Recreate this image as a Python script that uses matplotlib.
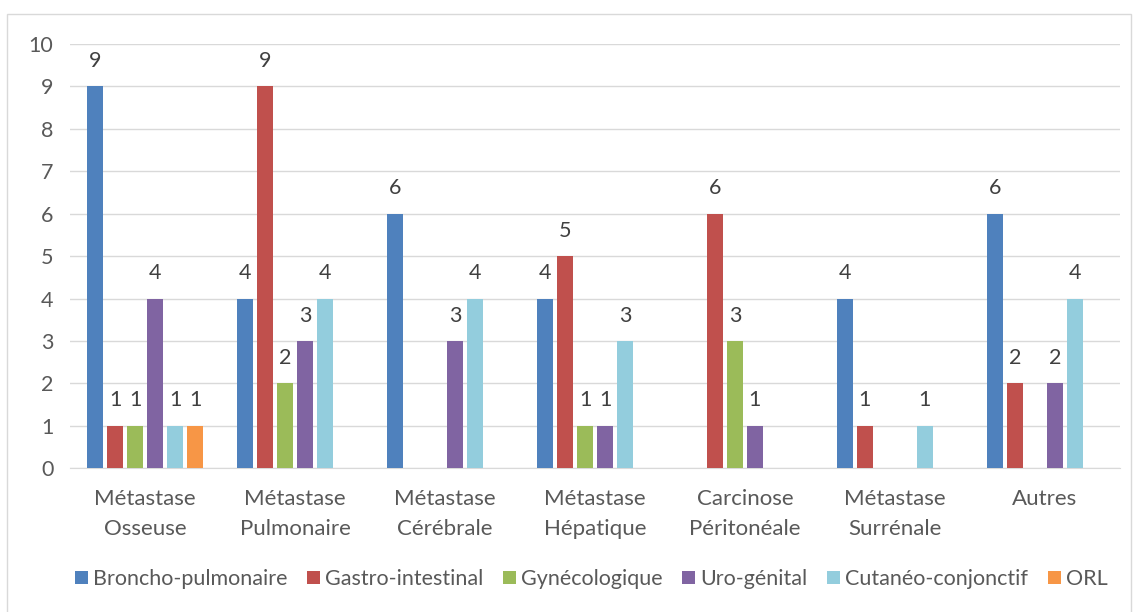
import numpy as np
import matplotlib.pyplot as plt
from matplotlib.patches import Rectangle

plt.rcParams['font.family'] = ['Lato', 'DejaVu Sans']

categories = ['Métastase\nOsseuse', 'Métastase\nPulmonaire', 'Métastase\nCérébrale',
              'Métastase\nHépatique', 'Carcinose\nPéritonéale', 'Métastase\nSurrénale', 'Autres']
series = ['Broncho-pulmonaire', 'Gastro-intestinal', 'Gynécologique',
          'Uro-génital', 'Cutanéo-conjonctif', 'ORL']
broncho = [9, 4, 6, 4, 0, 4, 6]
gastro = [1, 9, 0, 5, 6, 1, 2]
gyneco = [1, 2, 0, 1, 3, 0, 0]
uro = [4, 3, 3, 1, 1, 0, 2]
cutaneo = [1, 4, 4, 3, 0, 1, 4]
orl = [1, 0, 0, 0, 0, 0, 0]
values = [broncho, gastro, gyneco, uro, cutaneo, orl]
colors = ['#4F81BD', '#C0504D', '#9BBB59', '#8064A2', '#93CDDD', '#F79646']

fig = plt.figure(figsize=(11.37, 6.12), dpi=100)
ax = fig.add_axes([0.0616, 0.235, 0.9234, 0.693])

x = np.arange(len(categories))
step = 20 / 150
width = 16 / 150
for i, (name, vals, col) in enumerate(zip(series, values, colors)):
    pos = x + (i - 2.5) * step
    ax.bar(pos, vals, width=width, color=col, label=name, zorder=3)
    for p, v in zip(pos, vals):
        if v > 0:
            ax.annotate(str(v), (p, v), xytext=(0, 11), textcoords='offset points',
                        ha='center', va='bottom', fontsize=15.5, color='#404040')

ax.set_xlim(-0.5, len(categories) - 0.5)
ax.set_ylim(0, 10)
ax.set_yticks(range(0, 11))
ax.set_xticks(x)
ax.set_xticklabels(categories, fontsize=16, color='#595959', linespacing=1.6)
ax.tick_params(axis='y', labelsize=15.5, labelcolor='#595959', length=0, pad=12)
ax.tick_params(axis='x', length=0, pad=15)
ax.grid(axis='y', color='#D9D9D9', linewidth=1, zorder=0)
for s in ['top', 'right', 'left']:
    ax.spines[s].set_visible(False)
ax.spines['bottom'].set_color('#D9D9D9')

fig.legend(loc='center', bbox_to_anchor=(0.52, 0.054), ncol=6, frameon=False,
           fontsize=15.5, handlelength=0.6, handleheight=0.6, handletextpad=0.25,
           columnspacing=0.9, labelcolor='#595959')

fig.add_artist(Rectangle((7 / 1137, -0.05), 1124 / 1137, 1.05 - 14 / 612,
                         transform=fig.transFigure, fill=False,
                         edgecolor='#D9D9D9', linewidth=1))

fig.savefig('out.png', dpi=100)
